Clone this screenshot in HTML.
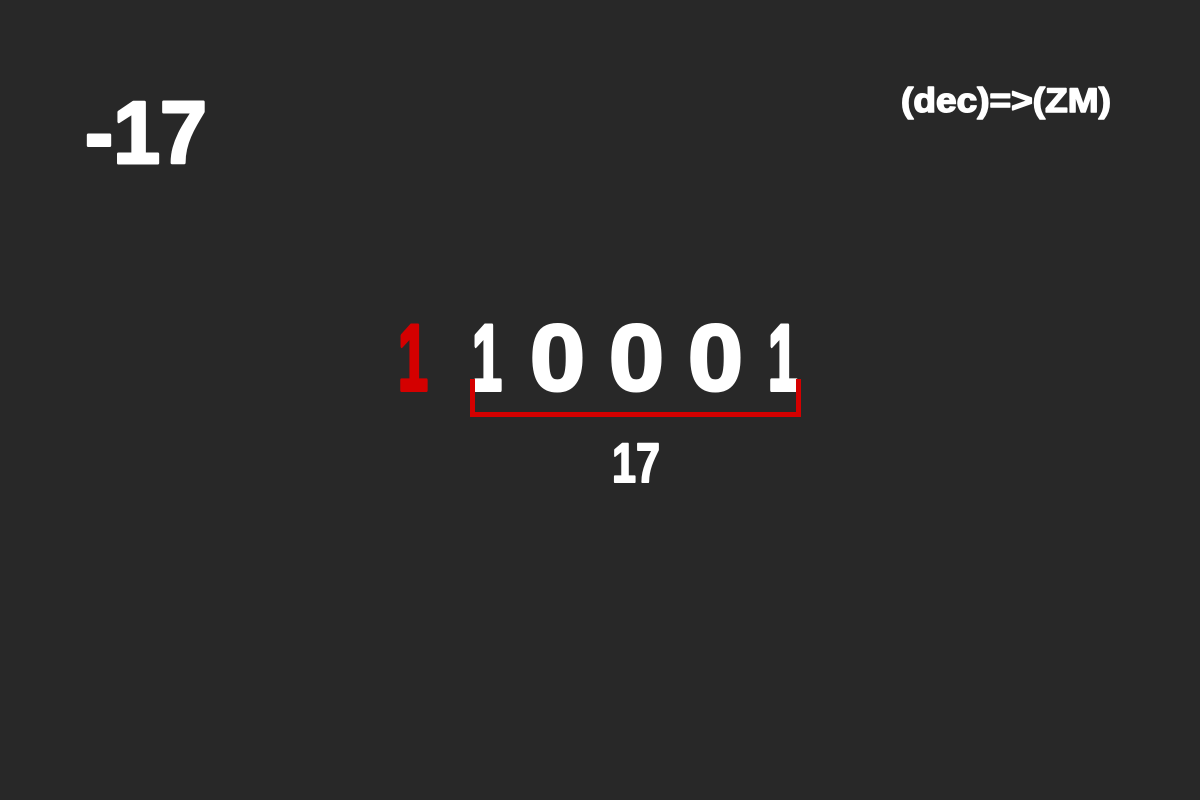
<!DOCTYPE html>
<html><head><meta charset="utf-8"><style>
html,body{margin:0;padding:0;background:#282828;}
svg{display:block;}
text{font-family:"Liberation Sans",sans-serif;font-weight:bold;fill:#fff;stroke:#fff;stroke-linejoin:round;}
</style></head><body>
<svg width="1200" height="800" viewBox="0 0 1200 800">
<rect x="0" y="0" width="1200" height="800" fill="#282828"/>
<text x="85" y="163" font-size="88" stroke-width="3" textLength="122" lengthAdjust="spacingAndGlyphs">-17</text>
<text x="901" y="112" font-size="34" stroke-width="1.5" textLength="210" lengthAdjust="spacingAndGlyphs">(dec)=&gt;(ZM)</text>
<text x="398" y="390" font-size="94" stroke-width="4" style="fill:#d40000;stroke:#d40000" textLength="30" lengthAdjust="spacingAndGlyphs">1</text>
<g>
<text x="472" y="390" font-size="94" stroke-width="4" textLength="30" lengthAdjust="spacingAndGlyphs">1</text>
<text x="530" y="390" font-size="94" stroke-width="3" textLength="55" lengthAdjust="spacingAndGlyphs">0</text>
<text x="609" y="390" font-size="94" stroke-width="3" textLength="55" lengthAdjust="spacingAndGlyphs">0</text>
<text x="688" y="390" font-size="94" stroke-width="3" textLength="55" lengthAdjust="spacingAndGlyphs">0</text>
<text x="768" y="390" font-size="94" stroke-width="4" textLength="30" lengthAdjust="spacingAndGlyphs">1</text>
</g>
<path d="M472.5 379 V414.5 H798.5 V379" fill="none" stroke="#d40000" stroke-width="5"/>
<text x="612" y="482" font-size="56" stroke-width="2" textLength="48" lengthAdjust="spacingAndGlyphs">17</text>
</svg>
</body></html>
